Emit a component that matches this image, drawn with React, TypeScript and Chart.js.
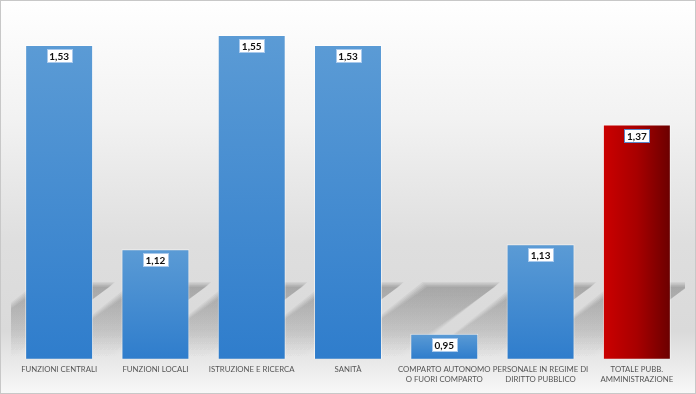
import React, { useEffect, useRef } from "react";
import { Chart, registerables } from "chart.js";

Chart.register(...registerables);

const categories: string[][] = [
  ["FUNZIONI CENTRALI"],
  ["FUNZIONI LOCALI"],
  ["ISTRUZIONE E RICERCA"],
  ["SANITÀ"],
  ["COMPARTO AUTONOMO", "O FUORI COMPARTO"],
  ["PERSONALE IN REGIME DI", "DIRITTO PUBBLICO"],
  ["TOTALE PUBB.", "AMMINISTRAZIONE"],
];
const values: number[] = [1.53, 1.12, 1.55, 1.53, 0.95, 1.13, 1.37];
const highlight: boolean[] = [false, false, false, false, false, false, true];
const yMin = 0.9;
const yMax = 1.6;

const backgroundPlugin = {
  id: "bgPlugin",
  beforeDraw(chart: any) {
    const { ctx, width, height } = chart;
    ctx.save();
    const g = ctx.createLinearGradient(0, 0, 0, height);
    g.addColorStop(0, "#ffffff");
    g.addColorStop(0.3, "#f2f2f2");
    g.addColorStop(0.62, "#dedede");
    g.addColorStop(0.84, "#dadada");
    g.addColorStop(1, "#f8f8f8");
    ctx.fillStyle = g;
    ctx.fillRect(0, 0, width, height);
    ctx.strokeStyle = "#c8c8c8";
    ctx.lineWidth = 1;
    ctx.strokeRect(0.5, 0.5, width - 1, height - 1);
    ctx.restore();
  },
};

const shadowPlugin = {
  id: "shadowPlugin",
  beforeDatasetsDraw(chart: any) {
    const { ctx, chartArea } = chart;
    const meta = chart.getDatasetMeta(0);
    ctx.save();
    ctx.beginPath();
    ctx.rect(chartArea.left, chartArea.top, chartArea.right - chartArea.left, chartArea.bottom - chartArea.top);
    ctx.clip();
    const sh = 72;
    const topShift = 17;
    const skew = 103;
    meta.data.forEach((bar: any) => {
      const hw = bar.width / 2;
      const b = chartArea.bottom;
      const steps = 4;
      for (let k = steps; k >= 0; k--) {
        const grow = k * 1.2;
        const g = ctx.createLinearGradient(0, b - sh, 0, b);
        g.addColorStop(0, "rgba(0,0,0,0.055)");
        g.addColorStop(0.45, "rgba(0,0,0,0.03)");
        g.addColorStop(1, "rgba(0,0,0,0.0)");
        ctx.fillStyle = g;
        ctx.beginPath();
        ctx.moveTo(bar.x - hw + topShift - skew - grow, b + grow);
        ctx.lineTo(bar.x + hw + topShift - skew + grow, b + grow);
        ctx.lineTo(bar.x + hw + topShift + grow, b - sh - grow);
        ctx.lineTo(bar.x - hw + topShift - grow, b - sh - grow);
        ctx.closePath();
        ctx.fill();
      }
    });
    ctx.restore();
  },
};

const labelPlugin = {
  id: "labelPlugin",
  afterDatasetsDraw(chart: any) {
    const { ctx } = chart;
    const meta = chart.getDatasetMeta(0);
    ctx.save();
    ctx.font = "bold 10px Lato";
    ctx.textAlign = "center";
    ctx.textBaseline = "middle";
    meta.data.forEach((bar: any, i: number) => {
      const text = values[i].toFixed(2).replace(".", ",");
      const tw = ctx.measureText(text).width;
      const bw = Math.round(tw + 5);
      const bh = 13;
      const bx = Math.round(bar.x - bw / 2) + 0.5;
      const by = Math.round(bar.y + 4) + 0.5;
      ctx.fillStyle = "#ffffff";
      ctx.fillRect(bx, by, bw, bh);
      ctx.strokeStyle = highlight[i] ? "#5b86c9" : "#a9c9ec";
      ctx.lineWidth = 1;
      ctx.strokeRect(bx, by, bw, bh);
      ctx.fillStyle = "#111111";
      ctx.fillText(text, bar.x, by + bh / 2 + 0.5);
    });
    ctx.restore();
  },
};

function barFill(c: any) {
  const chart = c.chart;
  const { chartArea, scales } = chart;
  if (!chartArea || !scales || !scales.y || c.type !== "data") return "#4a8fd4";
  const i = c.dataIndex;
  const yTop = scales.y.getPixelForValue(values[i]);
  const yBase = scales.y.getPixelForValue(yMin);
  const xc = scales.x.getPixelForValue(i);
  const hw = ((chartArea.right - chartArea.left) / values.length) * 0.706 / 2;
  const ctx = chart.ctx;
  if (highlight[i]) {
    const g = ctx.createLinearGradient(xc - hw, 0, xc + hw, 0);
    g.addColorStop(0, "#cc0000");
    g.addColorStop(0.5, "#a80000");
    g.addColorStop(1, "#6a0000");
    return g;
  }
  const g = ctx.createLinearGradient(0, yTop, 0, yBase);
  g.addColorStop(0, "#5b9bd5");
  g.addColorStop(1, "#2f7dcc");
  return g;
}

export default function App() {
  const ref = useRef<HTMLCanvasElement | null>(null);
  useEffect(() => {
    if (!ref.current) return;
    const chart = new Chart(ref.current, {
      type: "bar",
      data: {
        labels: categories,
        datasets: [
          {
            data: values,
            backgroundColor: barFill as any,
            borderColor: "rgba(255,255,255,0.55)",
            borderWidth: 1,
            categoryPercentage: 1,
            barPercentage: 0.706,
          },
        ],
      },
      options: {
        animation: false,
        responsive: false,
        layout: { padding: { left: 11, right: 11, top: 10, bottom: 4 } },
        plugins: {
          legend: { display: false },
          tooltip: { enabled: false },
        },
        scales: {
          y: { display: false, min: yMin, max: yMax },
          x: {
            grid: { display: false, drawTicks: false },
            border: { display: false },
            ticks: {
              autoSkip: false,
              maxRotation: 0,
              minRotation: 0,
              padding: 5,
              color: "#555555",
              font: { family: "Lato", size: 7.8, lineHeight: 1.36 },
            },
          },
        },
      },
      plugins: [backgroundPlugin, shadowPlugin, labelPlugin],
    });
    return () => chart.destroy();
  }, []);
  return (
    <div style={{ position: "fixed", left: 0, top: 0, width: 696, height: 394 }}>
      <canvas ref={ref} width={696} height={394} style={{ display: "block" }} />
    </div>
  );
}
